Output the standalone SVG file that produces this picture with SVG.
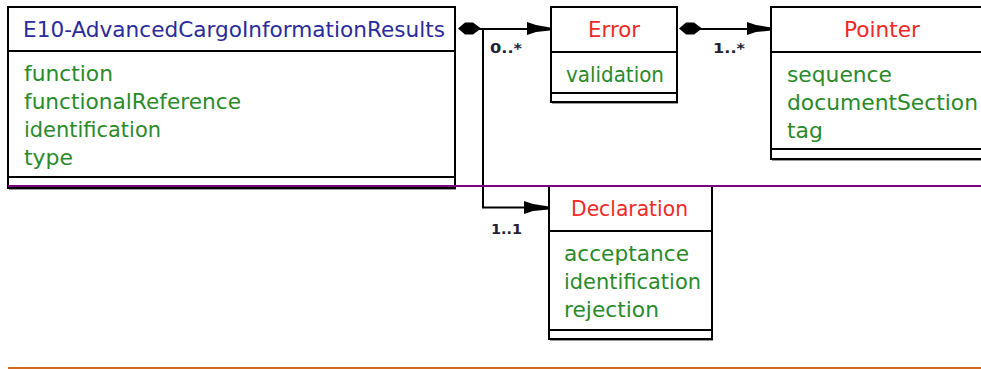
<svg xmlns="http://www.w3.org/2000/svg" width="981" height="369" viewBox="0 0 981 369">
<style>
.box{fill:#fff;stroke:#000;stroke-width:2}
.sep{stroke:#000;stroke-width:2}
.sh{stroke:#9a9a9a;stroke-width:1}
.title{font-family:"DejaVu Sans",Verdana,sans-serif;font-size:22px;fill:#2b2b9a}
.name{font-family:"DejaVu Sans",Verdana,sans-serif;font-size:22px;fill:#f02828}
.attr{font-family:"DejaVu Sans",Verdana,sans-serif;font-size:22px;fill:#2a8a2a}
.lbl{font-family:"DejaVu Sans",Verdana,sans-serif;font-size:14px;font-weight:bold;fill:#222233}
.ln{fill:none;stroke:#000;stroke-width:2}
.head{fill:#000;stroke:none}
</style>
<rect width="981" height="369" fill="#fff"/>
<g id="node-e10">
<rect class="box" x="8" y="7" width="447" height="181"/>
<line class="sep" x1="8" y1="51" x2="455" y2="51"/>
<line class="sep" x1="8" y1="177" x2="455" y2="177"/>
<line class="sh" x1="9" y1="189.5" x2="456" y2="189.5"/>
<text class="title" x="23" y="37" textLength="422" lengthAdjust="spacingAndGlyphs">E10-AdvancedCargoInformationResults</text>
<text class="attr" x="24" y="81" textLength="89" lengthAdjust="spacingAndGlyphs">function</text>
<text class="attr" x="24" y="109" textLength="217" lengthAdjust="spacingAndGlyphs">functionalReference</text>
<text class="attr" x="24" y="137" textLength="137" lengthAdjust="spacingAndGlyphs">identification</text>
<text class="attr" x="24" y="165" textLength="49" lengthAdjust="spacingAndGlyphs">type</text>
</g>
<g id="node-error">
<rect class="box" x="551" y="7" width="126" height="95"/>
<line class="sep" x1="551" y1="52" x2="677" y2="52"/>
<line class="sep" x1="551" y1="93" x2="677" y2="93"/>
<line class="sh" x1="552" y1="103.5" x2="678" y2="103.5"/>
<text class="name" x="588" y="37" textLength="52" lengthAdjust="spacingAndGlyphs">Error</text>
<text class="attr" x="566" y="82" textLength="98" lengthAdjust="spacingAndGlyphs">validation</text>
</g>
<g id="node-pointer">
<rect class="box" x="771" y="7" width="230" height="152"/>
<line class="sep" x1="771" y1="52" x2="981" y2="52"/>
<line class="sep" x1="771" y1="149" x2="981" y2="149"/>
<line class="sh" x1="772" y1="160.5" x2="981" y2="160.5"/>
<text class="name" x="844" y="37" textLength="76" lengthAdjust="spacingAndGlyphs">Pointer</text>
<text class="attr" x="787" y="82" textLength="105" lengthAdjust="spacingAndGlyphs">sequence</text>
<text class="attr" x="787" y="110" textLength="191" lengthAdjust="spacingAndGlyphs">documentSection</text>
<text class="attr" x="787" y="138" textLength="36" lengthAdjust="spacingAndGlyphs">tag</text>
</g>
<g id="node-declaration">
<rect class="box" x="549" y="186" width="163" height="153"/>
<line class="sep" x1="549" y1="231" x2="712" y2="231"/>
<line class="sep" x1="549" y1="330" x2="712" y2="330"/>
<line class="sh" x1="550" y1="340.5" x2="713" y2="340.5"/>
<text class="name" x="571" y="216" textLength="117" lengthAdjust="spacingAndGlyphs">Declaration</text>
<text class="attr" x="564" y="261" textLength="125" lengthAdjust="spacingAndGlyphs">acceptance</text>
<text class="attr" x="564" y="289" textLength="137" lengthAdjust="spacingAndGlyphs">identification</text>
<text class="attr" x="564" y="317" textLength="95" lengthAdjust="spacingAndGlyphs">rejection</text>
</g>
<g id="connectors">
<path class="ln" d="M478,29 H530"/>
<polygon class="head" points="458,28.5 465,22.5 473,22.5 481,28.5 473,34.5 465,34.5"/>
<polygon class="head" points="527,22 536,25 550,27.5 550,30.5 536,32 527,35"/>
<text class="lbl" x="490" y="53" textLength="32" lengthAdjust="spacingAndGlyphs">0..*</text>
<path class="ln" d="M483,29 V207.5 H530"/>
<polygon class="head" points="524,201 533,204 549,206.5 549,209.5 533,211 524,214"/>
<text class="lbl" x="491" y="234" textLength="31" lengthAdjust="spacingAndGlyphs">1..1</text>
<path class="ln" d="M700,29 H750"/>
<polygon class="head" points="679,28.5 686,22.5 694,22.5 702,28.5 694,34.5 686,34.5"/>
<polygon class="head" points="747,22 756,25 771,27.5 771,30.5 756,32 747,35"/>
<text class="lbl" x="713" y="53" textLength="32" lengthAdjust="spacingAndGlyphs">1..*</text>
</g>
<line x1="8" y1="186" x2="981" y2="186" stroke="#800080" stroke-width="2"/>
<line x1="8" y1="368" x2="981" y2="368" stroke="#d2691e" stroke-width="2"/>
</svg>
